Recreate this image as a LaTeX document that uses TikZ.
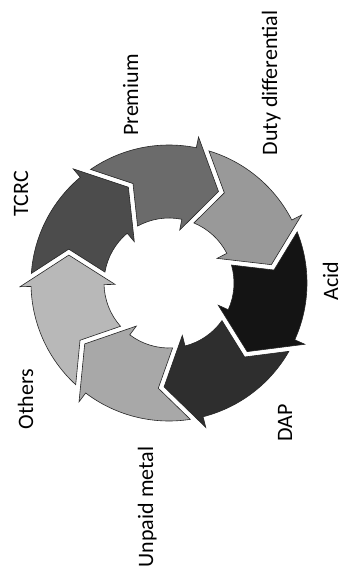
\documentclass[tikz,border=0pt]{standalone}
\usepackage{fontspec}
\setmainfont{Carlito}
\definecolor{cTCRC}{gray}{0.30}
\definecolor{cPrem}{gray}{0.42}
\definecolor{cDuty}{gray}{0.60}
\definecolor{cAcid}{gray}{0.08}
\definecolor{cDAP}{gray}{0.18}
\definecolor{cUnp}{gray}{0.66}
\definecolor{cOth}{gray}{0.72}
\tikzset{
  seg/.style={draw=black!85, line width=0.6pt, line join=miter},
  lbl/.style={rotate=90, anchor=base, inner sep=0pt, font=\fontsize{22}{26}\selectfont}
}
\begin{document}
\begin{tikzpicture}[x=1pt,y=-1pt]
\fill[white] (0,0) rectangle (342,586);
\useasboundingbox (0,0) rectangle (342,586);
\begin{scope}[shift={(169,283)}]
\foreach \k/\col in {0/cTCRC,1/cPrem,2/cDuty,3/cAcid,4/cDAP,5/cUnp,6/cOth}{
  \pgfmathsetmacro\segH{-130+51.4286*\k}
  \pgfmathsetmacro\segP{\segH-51.4286}
  \pgfmathsetmacro\segOA{\segP+5.4}
  \pgfmathsetmacro\segIA{\segP+11.1}
  \pgfmathsetmacro\segNA{\segP+20.1}
  \pgfmathsetmacro\segTA{\segH+17}
  \filldraw[seg, fill=\col] (\segOA:138) arc[start angle=\segOA, end angle=\segH, radius=138]
    -- (\segH:149) -- (\segTA:104) -- (\segH:54) -- (\segH:65)
    arc[start angle=\segH, end angle=\segIA, radius=65]
    -- (\segNA:105.8) -- cycle;
}
\end{scope}
\node[lbl] (premium) at (138,95) {Premium};
\node[lbl] (duty) at (277,83) {Duty differential};
\node[lbl] (tcrc) at (28,194) {TCRC};
\node[lbl] (acid) at (338,281) {Acid};
\node[lbl] (dap) at (292,423) {DAP};
\node[lbl] (unpaid) at (153,507) {Unpaid metal};
\node[lbl] (others) at (33,399) {Others};
\end{tikzpicture}
\end{document}
